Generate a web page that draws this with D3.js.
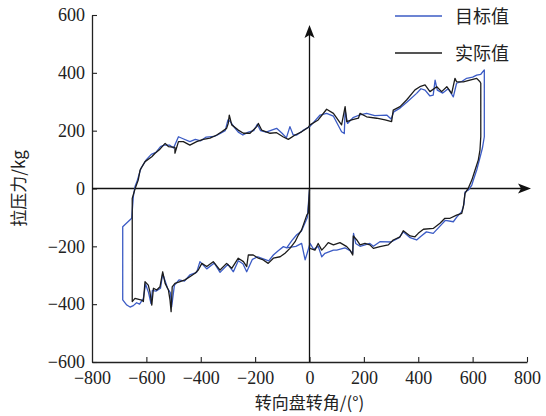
<!DOCTYPE html>
<html>
<head>
<meta charset="utf-8">
<script src="https://cdn.jsdelivr.net/npm/d3@7"></script>
<style>
  body { margin: 0; background: #fff; }
  svg { display: block; }
</style>
</head>
<body>
<div id="chart"></div>
<script>
// 数据：转向盘转角 (°) 与 拉压力 (kg)
const xTicks = [-800, -600, -400, -200, 0, 200, 400, 600, 800]
const yTicks = [-600, -400, -200, 0, 200, 400, 600]
const seriesNames = ["目标值", "实际值"]

const actualAngle = [0, -5, -10, -29, -41, -53, -72, -90, -108, -133, -152, -170, -188, -207, -225, -231, -243, -262, -286, -305, -329, -354, -378, -396, -409, -421, -440, -458, -476, -495, -505, -509, -513, -519, -531, -540, -550, -562, -574, -580, -587, -593, -605, -611, -617, -642, -652,
  -652, -641, -630, -623, -605, -580, -568, -550, -531, -519, -495, -495, -482, -464, -440, -415, -391, -366, -341, -323, -305, -299, -295, -286, -262, -243, -219, -194, -188, -176, -145, -121, -96, -78, -53, -29, -4, 2, 32, 63, 88, 118, 131, 137, 155, 180, 186, 210, 247, 278, 302, 308, 333, 357, 388, 406, 425, 443, 468, 486, 505, 523, 535, 541, 566, 590, 615, 627, 630,
  630, 627, 621, 609, 597, 584, 572, 566, 560, 541, 517, 498, 480, 455, 419, 400, 388, 370, 345, 333, 308, 290, 259, 235, 222, 204, 186, 174, 161, 159, 149, 137, 112, 88, 69, 57, 45, 32, 20, 2, 0, 0]
const actualForce = [-2, -85, -92, -143, -161, -184, -207, -224, -236, -241, -259, -247, -241, -230, -230, -270, -253, -241, -276, -259, -282, -253, -270, -259, -282, -293, -305, -316, -322, -328, -340, -426, -386, -351, -328, -288, -340, -351, -345, -403, -357, -334, -322, -391, -386, -380, -391,
  -34, 1, 29, 64, 93, 110, 122, 136, 156, 145, 142, 122, 162, 162, 150, 162, 170, 174, 185, 196, 208, 225, 254, 220, 202, 191, 191, 214, 225, 202, 191, 193, 178, 170, 185, 196, 212, 220, 237, 274, 260, 220, 283, 231, 237, 243, 260, 248, 243, 237, 231, 271, 283, 306, 341, 352, 358, 335, 352, 335, 352, 329, 381, 369, 369, 375, 381, 369, 364,
  179, 133, 99, 64, 29, 1, -17, -63, -86, -92, -103, -103, -120, -138, -141, -155, -167, -164, -146, -167, -178, -195, -201, -207, -195, -190, -195, -178, -164, -230, -213, -201, -187, -195, -187, -201, -213, -190, -213, -207, -207, 0]

const targetAngle = [0, -8, -30, -47, -65, -84, -96, -115, -133, -150, -170, -190, -210, -231, -245, -262, -280, -300, -329, -350, -378, -403, -415, -440, -460, -480, -497, -507, -512, -522, -540, -548, -565, -578, -583, -592, -603, -611, -625, -636, -648, -660, -672, -687,
  -687, -654, -648, -642, -633, -620, -600, -582, -565, -548, -535, -515, -500, -482, -465, -440, -420, -400, -380, -350, -330, -310, -300, -292, -275, -262, -245, -225, -205, -192, -180, -160, -121, -100, -85, -72, -60, -47, -25, 2, 39, 63, 88, 118, 128, 131, 140, 160, 186, 210, 240, 284, 300, 310, 333, 360, 394, 410, 425, 443, 455, 462, 470, 490, 510, 529, 541, 560, 578, 600, 615, 630, 643,
  643, 636, 628, 615, 603, 597, 585, 572, 568, 560, 545, 529, 500, 480, 455, 430, 410, 394, 370, 345, 330, 300, 259, 235, 222, 204, 186, 170, 162, 159, 149, 130, 100, 88, 57, 45, 32, 15, 2, -16, -29, -50, -84]
const targetForce = [-5, -100, -148, -160, -180, -205, -201, -215, -230, -250, -243, -236, -245, -288, -260, -250, -288, -262, -290, -258, -278, -253, -290, -299, -320, -316, -335, -409, -360, -345, -295, -345, -355, -352, -398, -360, -330, -380, -400, -395, -405, -410, -403, -385,
  -132, -103, -28, 6, 29, 70, 100, 118, 125, 145, 150, 150, 140, 179, 172, 162, 170, 165, 178, 180, 190, 200, 237, 232, 210, 195, 185, 195, 200, 222, 200, 195, 208, 190, 175, 214, 185, 185, 200, 215, 254, 260, 250, 196, 190, 270, 225, 245, 255, 260, 252, 254, 240, 265, 278, 300, 329, 345, 340, 320, 323, 375, 340, 330, 345, 317, 364, 370, 381, 385, 392, 395, 410,
  179, 140, 110, 64, 30, 12, -5, -12, -55, -80, -95, -115, -110, -130, -155, -150, -165, -178, -170, -150, -170, -185, -184, -200, -190, -195, -200, -190, -155, -225, -215, -205, -213, -213, -224, -236, -200, -210, -190, -247, -190, -200, -205]

const width = 546, height = 416
const margin = { top: 15, right: 19, bottom: 54, left: 92 }

const svg = d3.select("#chart").append("svg")
  .attr("width", width)
  .attr("height", height)

const x = d3.scaleLinear().domain([-800, 800]).range([margin.left, width - margin.right])
const y = d3.scaleLinear().domain([-600, 600]).range([height - margin.bottom, margin.top])

const numFont = "'Liberation Serif', 'Times New Roman', serif"
const cjkFont = "'Noto Sans CJK SC', sans-serif"

// 坐标轴（刻度朝内）
const xAxis = svg.append("g")
  .attr("transform", `translate(0,${y(-600)})`)
  .call(d3.axisBottom(x).tickValues(xTicks).tickSizeInner(-5).tickSizeOuter(0).tickPadding(9))
const yAxis = svg.append("g")
  .attr("transform", `translate(${x(-800)},0)`)
  .call(d3.axisLeft(y).tickValues(yTicks).tickSizeInner(-5).tickSizeOuter(0).tickPadding(7))

for (const ax of [xAxis, yAxis]) {
  ax.select(".domain").attr("stroke", "#222").attr("stroke-width", 1.3)
  ax.selectAll(".tick line").attr("stroke", "#222").attr("stroke-width", 1.1)
  ax.selectAll(".tick text")
    .attr("font-family", numFont)
    .attr("font-size", 18)
    .attr("fill", "#222")
}
xAxis.selectAll(".tick").filter(d => d === -800).select("line").remove()

// 过原点的坐标线与箭头
const axisColor = "#111"
svg.append("line")
  .attr("x1", x(-800)).attr("x2", x(800) - 6)
  .attr("y1", y(0)).attr("y2", y(0))
  .attr("stroke", axisColor).attr("stroke-width", 1.3)
svg.append("path")
  .attr("d", `M${x(800) + 4},${y(0)} L${x(800) - 9},${y(0) - 5} L${x(800) - 6},${y(0)} L${x(800) - 9},${y(0) + 5} Z`)
  .attr("fill", axisColor)
svg.append("line")
  .attr("x1", x(0)).attr("x2", x(0))
  .attr("y1", y(-600)).attr("y2", y(600) + 18)
  .attr("stroke", axisColor).attr("stroke-width", 1.3)
svg.append("path")
  .attr("d", `M${x(0)},${y(600) + 10} L${x(0) - 5},${y(600) + 23} L${x(0)},${y(600) + 20} L${x(0) + 5},${y(600) + 23} Z`)
  .attr("fill", axisColor)

// 曲线
const line = d3.line().x(d => x(d[0])).y(d => y(d[1]))
const series = [
  { name: seriesNames[0], color: "#3b5bc5", pts: targetAngle.map((a, i) => [a, targetForce[i]]) },
  { name: seriesNames[1], color: "#1c1c1c", pts: actualAngle.map((a, i) => [a, actualForce[i]]) }
]

svg.append("g")
  .selectAll("path")
  .data(series)
  .join("path")
  .attr("d", d => line(d.pts))
  .attr("fill", "none")
  .attr("stroke", d => d.color)
  .attr("stroke-width", 1.3)
  .attr("stroke-linejoin", "round")

// 图例
const legend = svg.append("g")
legend.selectAll("g")
  .data(series)
  .join("g")
  .attr("transform", (d, i) => `translate(395,${16 + i * 37})`)
  .each(function (d) {
    const g = d3.select(this)
    g.append("line").attr("x1", 0).attr("x2", 47).attr("y1", 0).attr("y2", 0)
      .attr("stroke", d.color).attr("stroke-width", 1.3)
    g.append("text").attr("x", 60).attr("y", 7)
      .attr("font-family", cjkFont).attr("font-size", 18).attr("fill", "#222")
      .text(d.name)
  })

// 轴标题
svg.append("text")
  .attr("x", x(0)).attr("y", 409)
  .attr("text-anchor", "middle")
  .attr("font-family", cjkFont).attr("font-size", 17).attr("fill", "#222")
  .text("转向盘转角/(°)")
svg.append("text")
  .attr("transform", `translate(25,${y(0)}) rotate(-90)`)
  .attr("text-anchor", "middle")
  .attr("font-family", cjkFont).attr("font-size", 17).attr("fill", "#222")
  .text("拉压力/kg")
</script>
</body>
</html>
